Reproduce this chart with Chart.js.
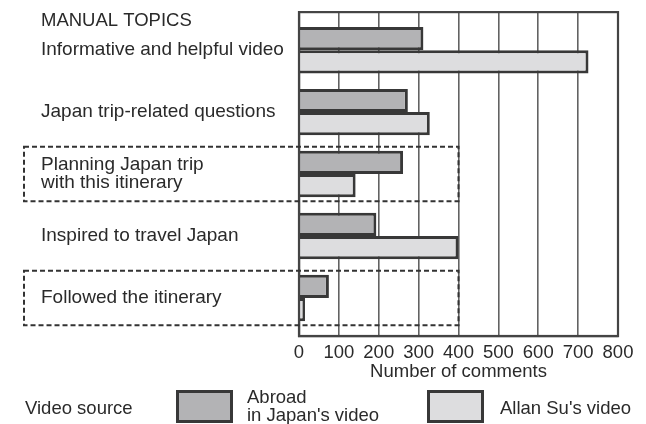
<!DOCTYPE html>
<html>
<head>
<meta charset="utf-8">
<script src="https://cdn.jsdelivr.net/npm/chart.js@4"></script>
<style>
  html, body { margin: 0; padding: 0; background: #fff; }
  #wrap { width: 646px; height: 424px; }
</style>
</head>
<body>
<div id="wrap"><canvas id="chart" width="646" height="424"></canvas></div>
<script>
// --- DATA ---
const categories = [
    'Informative and helpful video',
    'Japan trip-related questions',
    ['Planning Japan trip', 'with this itinerary'],
    'Inspired to travel Japan',
    'Followed the itinerary'
];
const abroadValues = [312, 273, 261, 194, 75];
const allanValues = [726, 328, 142, 400, 15];
const seriesLabels = [['Abroad', "in Japan's video"], "Allan Su's video"];
const xTicks = [0, 100, 200, 300, 400, 500, 600, 700, 800];
const highlighted = [2, 4];      // categories with a dashed frame
const highlightLimit = 400;      // frame reaches this value
const axisTitle = 'Number of comments';
const topicsTitle = 'MANUAL TOPICS';
const legendTitle = 'Video source';

const FONT = "'Liberation Sans', Arial, sans-serif";
const TEXT = '#2a2a2a';
const fills = ['#b3b3b5', '#dddddf'];
const edge = '#383838';

// --- DECORATIONS: frame, dashed boxes, titles, legend ---
const decor = {
    id: 'decor',
    afterDraw(chart) {
        const { ctx, chartArea: a, scales: { x, y } } = chart;
        ctx.save();

        // plot frame
        ctx.strokeStyle = '#444';
        ctx.lineWidth = 2.2;
        ctx.strokeRect(a.left, a.top, a.right - a.left, a.bottom - a.top);

        // dashed boxes
        ctx.setLineDash([5, 3]);
        ctx.strokeStyle = '#333';
        ctx.lineWidth = 2;
        const right = x.getPixelForValue(highlightLimit);
        highlighted.forEach(i => {
            const top = y.getPixelForValue(i - 0.44);
            const bot = y.getPixelForValue(i + 0.44);
            ctx.strokeRect(24, top, right - 24, bot - top);
        });
        ctx.setLineDash([]);

        // texts
        ctx.fillStyle = TEXT;
        ctx.font = `18.5px ${FONT}`;
        ctx.textAlign = 'left';
        ctx.textBaseline = 'alphabetic';
        ctx.fillText(topicsTitle, 41, 26);
        ctx.fillText(legendTitle, 25, 413.5);

        // legend
        const boxes = [176, 427];
        chart.data.datasets.forEach((ds, i) => {
            const bx = boxes[i], by = 390, bw = 57, bh = 33;
            ctx.fillStyle = ds.backgroundColor;
            ctx.fillRect(bx, by, bw, bh);
            ctx.strokeStyle = edge;
            ctx.lineWidth = 3;
            ctx.strokeRect(bx + 1.5, by + 1.5, bw - 3, bh - 3);
            ctx.fillStyle = TEXT;
            const lines = Array.isArray(seriesLabels[i]) ? seriesLabels[i] : [seriesLabels[i]];
            const tx = bx + bw + 14;
            if (lines.length === 1) {
                ctx.fillText(lines[0], tx + 2, 413.5);
            } else {
                lines.forEach((l, k) => ctx.fillText(l, tx, 403 + k * 18.3));
            }
        });
        ctx.restore();
    }
};

// --- CHART ---
const ctx = document.getElementById('chart').getContext('2d');
new Chart(ctx, {
    type: 'bar',
    data: {
        datasets: [
            {
                label: 'Abroad in Japan\'s video',
                data: abroadValues.map((v, i) => ({ x: v, y: i })),
                backgroundColor: fills[0],
                borderColor: edge,
                borderWidth: 3
            },
            {
                label: "Allan Su's video",
                data: allanValues.map((v, i) => ({ x: v, y: i })),
                backgroundColor: fills[1],
                borderColor: edge,
                borderWidth: 3
            }
        ]
    },
    options: {
        indexAxis: 'y',
        responsive: false,
        animation: false,
        categoryPercentage: 0.75,
        barPercentage: 1,
        layout: { padding: { left: 41, right: 28, top: 12, bottom: 41 } },
        plugins: {
            legend: { display: false },
            tooltip: { enabled: false }
        },
        scales: {
            x: {
                type: 'linear',
                min: xTicks[0],
                max: xTicks[xTicks.length - 1],
                afterBuildTicks: s => { s.ticks = xTicks.map(v => ({ value: v })); },
                afterFit: s => { s.height = 47; },
                grid: { color: '#626262', lineWidth: 1.6, drawTicks: false },
                border: { display: true, color: '#444', width: 2.2 },
                ticks: {
                    color: TEXT,
                    padding: 6,
                    maxRotation: 0,
                    font: { family: FONT, size: 18.5 }
                },
                title: {
                    display: true,
                    text: axisTitle,
                    color: TEXT,
                    padding: { top: 0, bottom: 0 },
                    font: { family: FONT, size: 18.5 }
                }
            },
            y: {
                type: 'linear',
                reverse: true,
                offset: false,
                min: -0.614,
                max: categories.length - 1 + 0.614,
                afterBuildTicks: s => { s.ticks = categories.map((c, i) => ({ value: i })); },
                afterFit: s => { s.width = 258; },
                grid: { display: false, offset: false },
                border: { display: true, color: '#444', width: 2.2 },
                ticks: {
                    color: TEXT,
                    crossAlign: 'far',
                    autoSkip: false,
                    font: { family: FONT, size: 19, lineHeight: 0.96 },
                    callback: value => categories[value]
                }
            }
        }
    },
    plugins: [decor]
});
</script>
</body>
</html>
